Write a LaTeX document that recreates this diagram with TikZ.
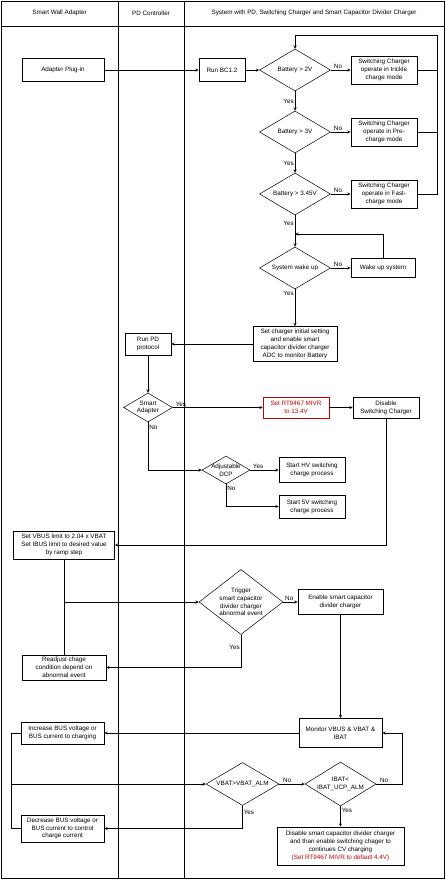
\documentclass[tikz,border=0pt]{standalone}
\usepackage{fontspec}
\setmainfont{Liberation Sans}
\usetikzlibrary{shapes.geometric, arrows.meta, calc, positioning}
\definecolor{alarm}{RGB}{192,0,0}

\begin{document}
\begin{tikzpicture}[x=1pt, y=-1pt]

% TikZ styles
\tikzset{
  box/.style={rectangle, draw=black, fill=white, line width=0.6pt, inner sep=1pt, align=center, font=\fontsize{6.3}{7.8}\selectfont},
  redbox/.style={box, draw=alarm, text=alarm},
  decision/.style={diamond, draw=black, fill=white, line width=0.5pt, inner sep=0pt, aspect=1.7, align=center, font=\fontsize{6.3}{7.8}\selectfont},
  arrow/.style={-stealth, line width=0.5pt},
  line/.style={line width=0.5pt},
  lbl/.style={font=\fontsize{6.3}{7.8}\selectfont, inner sep=1pt},
  lane/.style={font=\fontsize{6.3}{7.8}\selectfont}
}
\useasboundingbox (0,0) rectangle (446,881);

%==========================
% Swimlanes
%==========================
\draw[line width=0.8pt] (1,1) rectangle (444,878);
\draw[line] (1,26) -- (444,26);
\draw[line] (118,1) -- (118,878);
\draw[line] (184,1) -- (184,878);
\node[lane] (hadapter) at (59.5,13) {Smart Wall Adapter};
\node[lane] (hpd)      at (151,13)  {PD Controller};
\node[lane] (hsystem)  at (314,13)  {System with PD, Switching Charger and Smart Capacitor Divider Charger};

%==========================
% Battery check
%==========================
\node[box, minimum width=82pt, minimum height=23pt] (plugin) at (63,70) {Adapter Plug-in};
\node[box, minimum width=46pt, minimum height=23pt] (bc) at (222,70) {Run BC1.2};

\node[decision, minimum width=71pt, minimum height=42pt] (bat2)   at (295,70)  {Battery > 2V};
\node[decision, minimum width=71pt, minimum height=42pt] (bat3)   at (295,132) {Battery > 3V};
\node[decision, minimum width=71pt, minimum height=42pt] (bat345) at (295,194) {Battery > 3.45V};

\node[box, minimum width=66pt, minimum height=28pt] (trickle) at (384,70)  {Switching Charger\\operate in trickle\\charge mode};
\node[box, minimum width=66pt, minimum height=28pt] (pre)     at (384,132) {Switching Charger\\operate in Pre-\\charge mode};
\node[box, minimum width=66pt, minimum height=28pt] (fast)    at (384,194) {Switching Charger\\operate in Fast-\\charge mode};

\node[decision, minimum width=71pt, minimum height=42pt] (wake) at (295,268) {System wake up};
\node[box, minimum width=64pt, minimum height=19pt] (wakesys) at (383,268) {Wake up system};

\node[box, minimum width=84pt, minimum height=35pt] (init) at (295,344) {Set charger initial setting\\and enable smart\\capacitor divider charger\\ADC to monitor Battery};

\coordinate (looptop) at (437,35);
\coordinate (wakein) at (295,234);

%==========================
% PD protocol
%==========================
\node[box, minimum width=46pt, minimum height=22pt] (runpd) at (148,344) {Run PD\\protocol};
\node[decision, minimum width=49pt, minimum height=29pt] (smart) at (148,407.5) {Smart\\Adapter};
\node[redbox, minimum width=66pt, minimum height=21pt] (mivr) at (296,407.5) {Set RT9467 MIVR\\to 13.4V};
\node[box, minimum width=66pt, minimum height=21pt] (disable) at (386,407.5) {Disable\\Switching Charger};
\node[decision, inner xsep=-4pt, minimum width=48pt, minimum height=28pt] (dcp) at (226,470) {Adjustable\\DCP};
\node[box, minimum width=66pt, minimum height=25pt] (hv) at (312,470) {Start HV switching\\charge process};
\node[box, minimum width=66pt, minimum height=23pt] (fivev) at (312,506.5) {Start 5V switching\\charge process};

%==========================
% Smart capacitor divider charger
%==========================
\node[box, minimum width=101pt, minimum height=28pt] (setvbus) at (64,545) {Set VBUS limit to 2.04 x VBAT\\Set IBUS limit to desired value\\by ramp step};
\node[decision, aspect=1.3, minimum width=84pt, minimum height=65pt] (trigger) at (241,602) {Trigger\\smart capacitor\\divider charger\\abnormal event};
\node[box, minimum width=85pt, minimum height=25pt] (enable) at (340.5,602) {Enable smart capacitor\\divider charger};
\node[box, minimum width=84pt, minimum height=25pt] (readjust) at (64,667.5) {Readjust chage\\condition depend on\\abnormal event};
\coordinate (jtrigger) at (64,602);

\node[box, minimum width=83pt, minimum height=29pt] (monitor) at (340.5,733) {Monitor VBUS \& VBAT \&\\IBAT};
\node[box, minimum width=83pt, minimum height=22pt] (increase) at (62.5,733) {Increase BUS voltage or\\BUS current to charging};
\node[decision, minimum width=73pt, minimum height=43pt] (vbat) at (242.5,784) {VBAT>VBAT\_ALM};
\node[decision, minimum width=71pt, minimum height=44pt] (ibat) at (340.5,784) {IBAT<\\IBAT\_UCP\_ALM};
\node[box, minimum width=83pt, minimum height=27pt] (decrease) at (62.5,828.5) {Decrease BUS voltage or\\BUS current to control\\charge current};
\node[box, minimum width=127pt, minimum height=38pt] (final) at (340.5,846) {Disable smart capacitor divider charger\\and than enable switching chager to\\continues CV charging\\{\color{alarm}(Set RT9467 MIVR to default 4.4V)}};
\coordinate (jloop) at (11,784);
\coordinate (ibatr) at (402,784);

%Pfeile Battery
\draw[arrow] (plugin.east) -- (bc.west);
\draw[arrow] (bc.east) -- (bat2.west);
\draw[arrow] (bat2.east) -- node[lbl, pos=0.1, above right] (no1) {No} (trickle.west);
\draw[arrow] (bat3.east) -- node[lbl, pos=0.1, above right] (no2) {No} (pre.west);
\draw[arrow] (bat345.east) -- node[lbl, pos=0.1, above right] (no3) {No} (fast.west);
\draw[arrow] (bat2.south) -- node[lbl, midway, left] (yes1) {Yes} (bat3.north);
\draw[arrow] (bat3.south) -- node[lbl, midway, left] (yes2) {Yes} (bat345.north);
\draw[arrow] (trickle.east) -| (looptop) -| (bat2.north);
\draw[line] (pre.east) -| (looptop);
\draw[line] (fast.east) -| (looptop);
\draw[arrow] (bat345.south) -- node[lbl, pos=0.25, left] (yes3) {Yes} (wake.north);
\draw[arrow] (wake.east) -- node[lbl, pos=0.1, above right] (no4) {No} (wakesys.west);
\draw[arrow] (wakesys.north) |- (wakein);
\draw[arrow] (wake.south) -- node[lbl, pos=0.12, left] (yes4) {Yes} (init.north);

%Pfeile PD
\draw[arrow] (init.west) -- (runpd.east);
\draw[arrow] (runpd.south) -- (smart.north);
\draw[arrow] (smart.east) -- node[lbl, pos=0.02, above right] (yes5) {Yes} (mivr.west);
\draw[arrow] (mivr.east) -- (disable.west);
\draw[arrow] (smart.south) |- node[lbl, pos=0.05, right] (no5) {No} (dcp.west);
\draw[arrow] (dcp.east) -- node[lbl, pos=0.05, above right] (yes6) {Yes} (hv.west);
\draw[arrow] (dcp.south) |- node[lbl, pos=0.1, right] (no6) {No} (fivev.west);
\draw[arrow] (disable.south) |- (setvbus.east);

%Pfeile Divider
\draw[line] (setvbus.south) -- (jtrigger);
\draw[line] (readjust.north) -- (jtrigger);
\draw[arrow] (jtrigger) -- (trigger.west);
\draw[arrow] (trigger.east) -- node[lbl, pos=0.05, above right] (no7) {No} (enable.west);
\draw[arrow] (trigger.south) |- node[lbl, pos=0.2, left] (yes7) {Yes} (readjust.east);
\draw[arrow] (enable.south) -- (monitor.north);
\draw[arrow] (monitor.west) -- (increase.east);
\draw[line] (increase.west) -| (jloop);
\draw[line] (decrease.west) -| (jloop);
\draw[arrow] (jloop) -- (vbat.west);
\draw[arrow] (vbat.east) -- node[lbl, pos=0.1, above right] (no8) {No} (ibat.west);
\draw[arrow] (ibat.east) -- node[lbl, pos=0.1, above right] (no9) {No} (ibatr) |- (monitor.east);
\draw[arrow] (vbat.south) |- node[lbl, pos=0.15, right] (yes8) {Yes} (decrease.east);
\draw[arrow] (ibat.south) -- node[lbl, pos=0.2, right] (yes9) {Yes} (final.north);
\end{tikzpicture}
\end{document}
